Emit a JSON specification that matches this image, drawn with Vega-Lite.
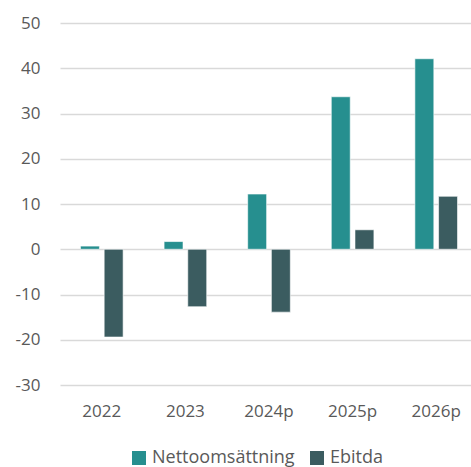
{
  "$schema": "https://vega.github.io/schema/vega-lite/v6.json",
  "width": 418,
  "height": 362,
  "autosize": {"type": "none"},
  "padding": {"left": 60, "top": 23, "right": 0, "bottom": 82},
  "background": "white",
  "config": {
    "font": "Open Sans",
    "view": {"stroke": null},
    "axis": {"labelColor": "#595959", "labelFont": "Open Sans", "labelFontSize": 17, "labelOverlap": false}
  },
  "data": {
    "values": [
      {"year": "2022", "series": "Nettoomsättning", "value": 0.7},
      {"year": "2022", "series": "Ebitda", "value": -19.4},
      {"year": "2023", "series": "Nettoomsättning", "value": 1.7},
      {"year": "2023", "series": "Ebitda", "value": -12.7},
      {"year": "2024p", "series": "Nettoomsättning", "value": 12.2},
      {"year": "2024p", "series": "Ebitda", "value": -13.9},
      {"year": "2025p", "series": "Nettoomsättning", "value": 33.7},
      {"year": "2025p", "series": "Ebitda", "value": 4.3},
      {"year": "2026p", "series": "Nettoomsättning", "value": 42.1},
      {"year": "2026p", "series": "Ebitda", "value": 11.7}
    ]
  },
  "mark": {"type": "bar", "stroke": "white", "strokeWidth": 0.6},
  "encoding": {
    "x": {
      "field": "year", "type": "nominal", "sort": null,
      "scale": {"paddingInner": 0.49, "paddingOuter": 0.245},
      "axis": {"title": null, "labelAngle": 0, "ticks": false, "domain": false, "labelPadding": 18, "grid": false}
    },
    "xOffset": {
      "field": "series", "type": "nominal",
      "sort": ["Nettoomsättning", "Ebitda"],
      "scale": {"paddingInner": 0.2, "paddingOuter": 0}
    },
    "y": {
      "field": "value", "type": "quantitative",
      "scale": {"domain": [-30, 50], "nice": false, "zero": false},
      "axis": {"title": null, "values": [-30, -20, -10, 0, 10, 20, 30, 40, 50], "labelExpr": "toString(datum.value)", "ticks": false, "domain": false, "labelPadding": 20, "gridColor": "#d9d9d9", "gridWidth": 1.5}
    },
    "color": {
      "field": "series", "type": "nominal",
      "sort": ["Nettoomsättning", "Ebitda"],
      "scale": {"domain": ["Nettoomsättning", "Ebitda"], "range": ["#268f8f", "#3b5c60"]},
      "legend": {
        "title": null, "orient": "none", "direction": "horizontal",
        "legendX": 70, "legendY": 426,
        "symbolType": "square", "symbolSize": 196, "symbolStrokeWidth": 0,
        "labelFontSize": 18, "labelColor": "#595959", "labelFont": "Open Sans",
        "columnPadding": 13
      }
    }
  }
}
